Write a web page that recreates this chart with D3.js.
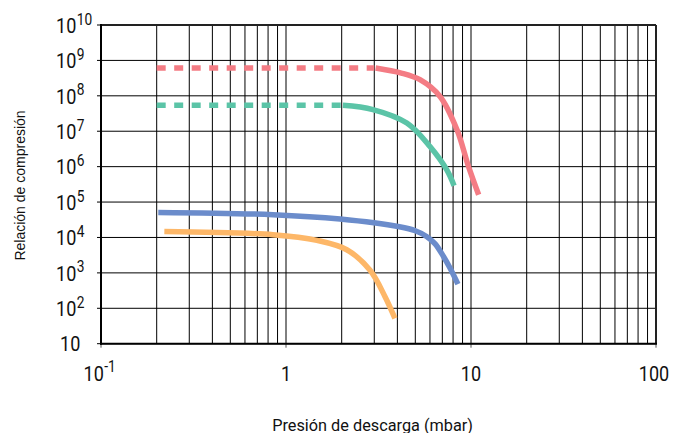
<!DOCTYPE html>
<html>
<head>
<meta charset="utf-8">
<script src="https://cdn.jsdelivr.net/npm/d3@7/dist/d3.min.js"></script>
<style>
html,body{margin:0;padding:0;background:#fff;}
svg{display:block;}
</style>
</head>
<body>
<svg id="chart" width="673" height="433"></svg>
<script>
// ---- data ----
const xDomain = [0.1, 100];
const yDomain = [10, 1e10];
const yTickExponents = [10, 9, 8, 7, 6, 5, 4, 3, 2, 1];
const xTickLabels = [
  {v: 0.1, base: "10", exp: "-1"},
  {v: 1, base: "1", exp: ""},
  {v: 10, base: "10", exp: ""},
  {v: 100, base: "100", exp: ""}
];
const xTitle = "Presión de descarga (mbar)";
const yTitle = "Relación de compresión";

// red series: dashed (extrapolated) part + solid part
const redDashX = [0.2, 3.0];
const redDashY = [6.1e8, 6.1e8];
const redX = [3.05, 4.2, 5.3, 6.8, 8.4, 9.7, 11.0];
const redY = [6.1e8, 4.4e8, 2.85e8, 9.6e7, 1.1e7, 1.0e6, 1.6e5];

// green series
const greenDashX = [0.2, 2.03];
const greenDashY = [5.4e7, 5.4e7];
const greenX = [2.03, 2.95, 4.5, 6.0, 7.4, 8.1];
const greenY = [5.4e7, 4.1e7, 1.7e7, 3.7e6, 8.1e5, 2.9e5];

// blue series
const blueX = [0.204, 0.85, 1.96, 4.1, 5.0, 5.75, 6.4, 7.1, 7.7, 8.5];
const blueY = [5.1e4, 4.4e4, 3.3e4, 2.0e4, 1.55e4, 1.07e4, 6.6e3, 2.9e3, 1.37e3, 480];

// orange series
const orangeX = [0.22, 0.85, 1.47, 2.13, 2.84, 3.43, 3.88];
const orangeY = [1.48e4, 1.2e4, 8.3e3, 4.5e3, 1.2e3, 213, 52];

const colors = {red: "#f47c84", green: "#5bc4a7", blue: "#6b8ccb", orange: "#fdb768"};

// ---- layout ----
const svg = d3.select("#chart");
const mLeft = 101, mRight = 656, mTop = 25, mBottom = 343.7;
const x = d3.scaleLog().domain(xDomain).range([mLeft, mRight]);
const y = d3.scaleLog().domain(yDomain).range([mBottom, mTop]);

// vertical grid lines (1..9 per decade)
const xGrid = [];
for (let d = -1; d < 2; d++) for (let m = 1; m < 10; m++) xGrid.push(m * Math.pow(10, d));
xGrid.push(100);
svg.append("g").selectAll("line").data(xGrid).join("line")
  .attr("x1", d => x(d)).attr("x2", d => x(d))
  .attr("y1", mTop).attr("y2", mBottom)
  .attr("stroke", "#000").attr("stroke-width", 1);

// horizontal grid lines at decades, extending as ticks to the left
const yGrid = yTickExponents.map(e => Math.pow(10, e));
svg.append("g").selectAll("line").data(yGrid).join("line")
  .attr("x1", mLeft - 4).attr("x2", mRight)
  .attr("y1", d => y(d)).attr("y2", d => y(d))
  .attr("stroke", "#000").attr("stroke-width", 1);

// bottom major ticks
svg.append("g").selectAll("line").data([0.1, 1, 10, 100]).join("line")
  .attr("x1", d => x(d)).attr("x2", d => x(d))
  .attr("y1", mBottom).attr("y2", mBottom + 4)
  .attr("stroke", "#555").attr("stroke-width", 1);

// frame
svg.append("line").attr("x1", mLeft).attr("x2", mRight).attr("y1", mTop).attr("y2", mTop)
  .attr("stroke", "#222").attr("stroke-width", 2);
svg.append("line").attr("x1", mRight).attr("x2", mRight).attr("y1", mTop).attr("y2", mBottom)
  .attr("stroke", "#222").attr("stroke-width", 2);
svg.append("line").attr("x1", mLeft).attr("x2", mLeft).attr("y1", mTop - 1).attr("y2", mBottom + 1)
  .attr("stroke", "#000").attr("stroke-width", 2);
svg.append("line").attr("x1", mLeft - 1).attr("x2", mRight + 1).attr("y1", mBottom).attr("y2", mBottom)
  .attr("stroke", "#000").attr("stroke-width", 2);

// ---- curves ----
const line = d3.line().x(d => x(d[0])).y(d => y(d[1])).curve(d3.curveCatmullRom.alpha(0.5));
const zip = (a, b) => a.map((v, i) => [v, b[i]]);
const lw = 5.5;

function drawSeries(xs, ys, color, dashed) {
  svg.append("path").datum(zip(xs, ys))
    .attr("d", line)
    .attr("fill", "none")
    .attr("stroke", color)
    .attr("stroke-width", lw)
    .attr("stroke-dasharray", dashed ? "9,8.5" : null);
}
drawSeries(redDashX, redDashY, colors.red, true);
drawSeries(redX, redY, colors.red, false);
drawSeries(greenDashX, greenDashY, colors.green, true);
drawSeries(greenX, greenY, colors.green, false);
drawSeries(blueX, blueY, colors.blue, false);
drawSeries(orangeX, orangeY, colors.orange, false);

// ---- tick labels (condensed via horizontal scale) ----
const font = "Roboto, 'Noto Sans', sans-serif";
const sx = 0.86;
function powLabel(g, px, py, base, exp, anchor) {
  const t = g.append("text")
    .attr("transform", `translate(${px},${py}) scale(${sx},1)`)
    .attr("text-anchor", anchor || "start");
  t.append("tspan").attr("font-size", 21).text(base);
  if (exp) {
    t.append("tspan").attr("font-size", 16).attr("dy", -8.3).attr("dx", 0.5).text(exp);
  }
  return t;
}

const yl = svg.append("g").attr("font-family", font).attr("fill", "#111");
yTickExponents.forEach(e => {
  const ty = y(Math.pow(10, e));
  if (e === 1) powLabel(yl, 60, ty + 7.2, "10", "");
  else powLabel(yl, 56, ty + 7.8, "10", String(e));
});

const xl = svg.append("g").attr("font-family", font).attr("fill", "#111");
const xBase = 380.7;
xTickLabels.forEach(t => {
  const cx = x(t.v);
  if (t.exp) powLabel(xl, 83.5, xBase, t.base, t.exp);
  else powLabel(xl, t.v === 100 ? cx - 2 : cx, xBase, t.base, "", "middle");
});

// ---- axis titles ----
svg.append("text")
  .attr("x", 372.6).attr("y", 430.5)
  .attr("text-anchor", "middle")
  .attr("font-family", font).attr("font-size", 16.3).attr("fill", "#111")
  .text(xTitle);

svg.append("text")
  .attr("transform", "translate(25,185.5) rotate(-90)")
  .attr("text-anchor", "middle")
  .attr("font-family", "'Liberation Sans', Arial, sans-serif").attr("font-size", 14).attr("fill", "#111")
  .text(yTitle);
</script>
</body>
</html>
